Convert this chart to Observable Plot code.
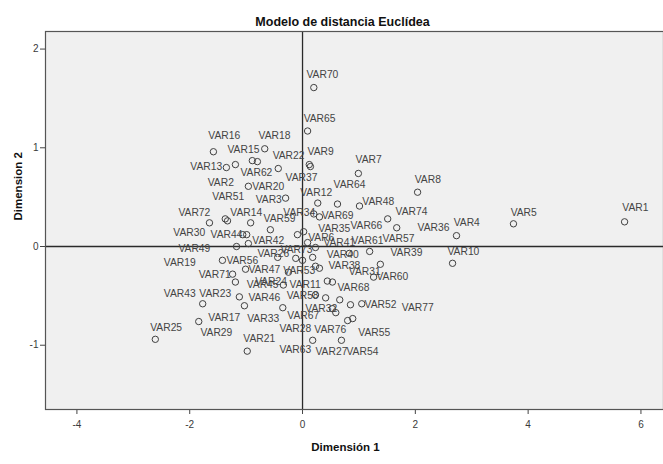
<!DOCTYPE html>
<html>
<head>
<meta charset="utf-8">
<script src="https://cdn.jsdelivr.net/npm/d3@7"></script>
<script src="https://cdn.jsdelivr.net/npm/@observablehq/plot@0.6"></script>
<style>
  html, body { margin: 0; padding: 0; background: #fff; }
  svg { display: block; }
</style>
</head>
<body>
<div id="chart"></div>
<script>
const chartTitle = "Modelo de distancia Euclídea";
const xTitle = "Dimensión 1";
const yTitle = "Dimension 2";
const xTicks = [-4, -2, 0, 2, 4, 6];
const yTicks = [-1, 0, 1, 2];

// variable names, coordinates (Dimensión 1, Dimension 2) and label anchors
const names = ["VAR1","VAR5","VAR4","VAR10","VAR8","VAR7","VAR70","VAR65","VAR9","VAR16",
  "VAR18","VAR15","VAR62","VAR22","VAR13","VAR2","VAR37","VAR20","VAR51","VAR14",
  "VAR3","VAR12","VAR64","VAR48","VAR74","VAR36","VAR72","VAR59","VAR34","VAR69",
  "VAR35","VAR44","VAR49","VAR30","VAR42","VAR19","VAR26","VAR56","VAR73","VAR6",
  "VAR41","VAR66","VAR40","VAR53","VAR61","VAR57","VAR39","VAR38","VAR31","VAR47",
  "VAR71","VAR45","VAR24","VAR11","VAR29","VAR68","VAR60","VAR32","VAR67","VAR43",
  "VAR23","VAR46","VAR58","VAR52","VAR77","VAR17","VAR33","VAR25","VAR21","VAR28",
  "VAR76","VAR55","VAR63","VAR27","VAR54"];
const dim1 = [5.71,3.74,2.73,2.66,2.04,0.99,0.20,0.09,0.12,-1.58,
  -0.67,-0.80,-0.89,-0.43,-1.35,-1.19,0.14,-0.96,-1.37,-1.33,
  -0.30,0.27,0.62,1.01,1.51,1.67,-1.65,-0.57,0.20,0.30,
  0.02,-1.06,-0.99,-0.92,-0.96,-1.17,-0.44,-1.42,-0.12,0.09,
  0.23,-0.09,0.18,0.00,0.83,1.19,1.38,0.23,0.30,-1.01,
  -1.24,-1.19,-0.34,0.53,-0.25,0.44,1.26,0.53,0.59,-1.77,
  -1.12,-1.03,0.23,1.05,0.85,-1.84,-0.35,-2.61,-0.98,0.41,
  0.66,0.89,0.18,0.69,0.80];
const dim2 = [0.25,0.23,0.11,-0.17,0.55,0.74,1.61,1.17,0.83,0.96,
  0.99,0.86,0.87,0.79,0.80,0.83,0.81,0.61,0.28,0.26,
  0.49,0.44,0.43,0.41,0.28,0.19,0.24,0.17,0.33,0.30,
  0.15,0.12,0.12,0.24,0.03,0.00,-0.11,-0.14,-0.12,0.04,
  -0.01,0.12,-0.11,-0.14,-0.07,-0.05,-0.18,-0.20,-0.22,-0.23,
  -0.28,-0.36,-0.39,-0.36,-0.26,-0.35,-0.31,-0.63,-0.67,-0.58,
  -0.51,-0.60,-0.49,-0.58,-0.59,-0.76,-0.62,-0.94,-1.06,-0.52,
  -0.54,-0.73,-0.95,-0.95,-0.75];
const labelDim1 = [5.67,3.69,2.68,2.57,1.99,0.94,0.07,0.02,0.09,-1.67,
  -0.78,-1.33,-1.10,-0.53,-1.99,-1.68,-0.30,-0.89,-1.60,-1.28,
  -0.83,-0.04,0.55,1.06,1.65,2.04,-2.20,-0.69,-0.34,0.34,
  0.28,-1.63,-2.20,-2.29,-0.89,-2.46,-0.80,-1.35,-0.39,0.10,
  0.37,0.85,0.43,-0.34,0.87,1.42,1.56,0.46,0.82,-0.96,
  -1.84,-0.99,-0.84,-0.23,-1.81,0.62,1.31,0.05,-0.27,-2.46,
  -1.83,-0.96,-0.28,1.10,1.76,-1.67,-0.98,-2.70,-1.05,-0.41,
  0.21,0.99,-0.41,0.23,0.78];
const labelDim2 = [0.39,0.34,0.24,-0.05,0.68,0.88,1.74,1.29,0.96,1.12,
  1.12,0.98,0.75,0.92,0.81,0.65,0.70,0.61,0.50,0.34,
  0.47,0.55,0.63,0.45,0.35,0.19,0.34,0.28,0.34,0.31,
  0.18,0.12,-0.02,0.14,0.06,-0.16,-0.07,-0.14,-0.03,0.09,
  0.04,0.21,-0.08,-0.25,0.06,0.08,-0.06,-0.19,-0.26,-0.23,
  -0.29,-0.39,-0.36,-0.39,-0.87,-0.42,-0.31,-0.63,-0.70,-0.48,
  -0.48,-0.52,-0.50,-0.59,-0.62,-0.72,-0.73,-0.82,-0.93,-0.83,
  -0.84,-0.87,-1.05,-1.07,-1.07];

const data = names.map((n, i) => ({name: n, x: dim1[i], y: dim2[i], lx: labelDim1[i], ly: labelDim2[i]}));

const ink = "#3a3a3a";
const font = "'Liberation Sans', Arial, sans-serif";

const chart = Plot.plot({
  width: 663,
  height: 464,
  marginLeft: 45,
  marginRight: 0,
  marginTop: 31,
  marginBottom: 55,
  style: {fontFamily: font, fontSize: "10px", color: ink, background: "#fff"},
  x: {domain: [-4.557, 6.40], label: null},
  y: {domain: [-1.651, 2.178], label: null},
  marks: [
    Plot.frame({fill: "#f0f0f0", stroke: null}),
    Plot.axisX({ticks: xTicks, tickSize: 5, tickPadding: 6, tickFormat: d => String(d), label: null, stroke: "#444", fill: ink, fontSize: 10}),
    Plot.axisY({ticks: yTicks, tickSize: 5, tickPadding: 2, tickFormat: d => String(d), label: null, stroke: "#444", fill: ink, fontSize: 10}),
    Plot.ruleY([0], {stroke: "#2a2a2a", strokeWidth: 1.3}),
    Plot.ruleX([0], {stroke: "#2a2a2a", strokeWidth: 1.3}),
    Plot.dot(data, {x: "x", y: "y", r: 3.2, stroke: "#404040", strokeWidth: 1, fill: "none"}),
    Plot.text(data, {x: "lx", y: "ly", text: "name", textAnchor: "start", lineAnchor: "middle", fill: "#444", fontSize: 10.3}),
    Plot.frame({stroke: "#555", strokeWidth: 1.2}),
    Plot.text([chartTitle], {frameAnchor: "top", dx: -12, dy: -14, fontSize: 12.5, fontWeight: "bold", fill: "#111"}),
    Plot.text([xTitle], {frameAnchor: "bottom", dx: -9, dy: 41, fontSize: 11.5, fontWeight: "bold", fill: "#111"}),
    Plot.text([yTitle], {frameAnchor: "left", dx: -27, rotate: -90, fontSize: 11.5, fontWeight: "bold", fill: "#111"})
  ]
});
document.getElementById("chart").appendChild(chart);
</script>
</body>
</html>
